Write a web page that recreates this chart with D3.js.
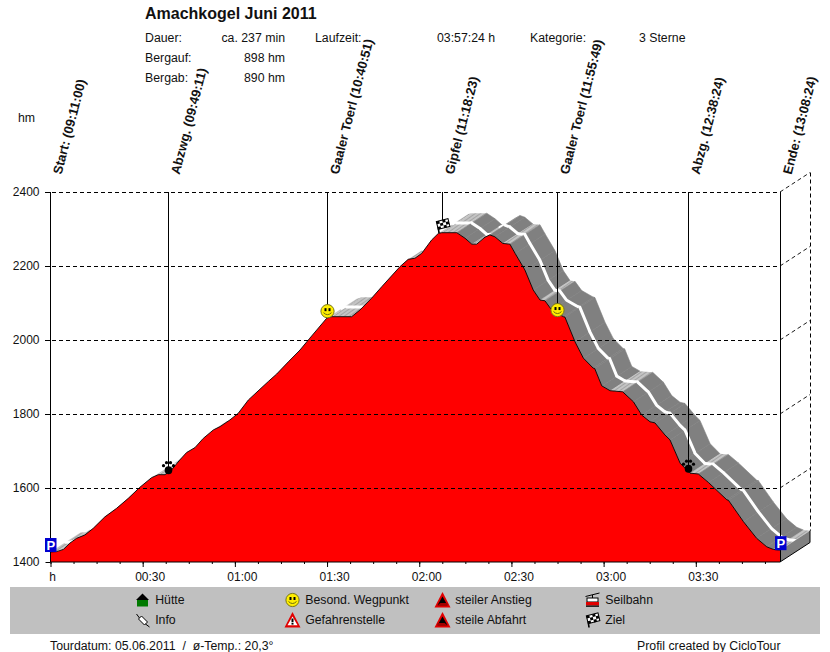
<!DOCTYPE html>
<html>
<head>
<meta charset="utf-8">
<script src="https://cdn.jsdelivr.net/npm/d3@7"></script>
<style>
  body { margin: 0; background: #fff; }
  text { font-family: "Liberation Sans", Arial, sans-serif; font-size: 12.3px; fill: #111; }
  .domain { stroke: #000; }
</style>
</head>
<body>
<div id="chart"></div>
<script>
// profile: minutes since start / elevation in hm
const profileMin = [0, 2, 4.2, 6.3, 8.5, 11.2, 13.9, 17.7, 21.5, 25.3, 29.1, 32.9, 35.1, 37.3, 39.4, 42.1, 44.3, 47, 49.7, 53, 55.2,
    58.4, 61.1, 64.4, 70.9, 73.6, 77.4, 81.2, 84.4, 89.9, 91.5, 98, 100.7, 104.5, 107.8, 113.7, 116.4, 118.6, 120.8, 124, 126.2, 127.3,
    132.2, 134.9, 137.1, 138.7, 141.4, 143, 144.6, 147.2, 149.5, 151.2, 154.4, 157.1, 159.3, 160.9, 163.1, 166.9, 167.4, 170.7, 173.4, 176.6, 177.1,
    179.4, 182.1, 186.2, 189.7, 192.4, 195.1, 196.7, 200, 201.6, 204.9, 208.1, 210.8, 214.1, 220.1, 220.6, 225.5, 229.8, 233.1, 235.2, 237.4];
const profileHm = [1427, 1428, 1434, 1451, 1464, 1473, 1491, 1522, 1545, 1572, 1602, 1628, 1636, 1636, 1649, 1676, 1696, 1709, 1734, 1757, 1766,
    1784, 1802, 1838, 1888, 1908, 1941, 1973, 2005, 2059, 2063, 2063, 2081, 2113, 2144, 2198, 2218, 2221, 2234, 2270, 2288, 2290,
    2290, 2275, 2259, 2259, 2278, 2284, 2279, 2261, 2259, 2234, 2189, 2135, 2108, 2106, 2081, 2063, 2062, 1995, 1951, 1924, 1923,
    1876, 1863, 1860, 1833, 1797, 1779, 1776, 1743, 1730, 1667, 1640, 1638, 1615, 1568, 1567, 1509, 1464, 1441, 1434, 1432];

// waypoints
const eventNames = ["Start", "Abzwg.", "Gaaler Toerl", "Gipfel", "Gaaler Toerl", "Abzg.", "Ende"];
const eventClock = ["09:11:00", "09:49:11", "10:40:51", "11:18:23", "11:55:49", "12:38:24", "13:08:24"];
const eventMin = [0, 38.18, 89.85, 127.38, 164.82, 207.4, 237.4];
const eventHm = [1427, 1636, 2059, 2290, 2062, 1640, 1432];
const eventIcons = ["park", "paw", "smile", "flag", "smile", "paw", "park"];
const eventSep = [": ", " ", " ", " ", " ", " ", ": "];

const yTicks = [1400, 1600, 1800, 2000, 2200, 2400];
const xMajor = [0, 30, 60, 90, 120, 150, 180, 210];
const xLabels = ["h", "00:30", "01:00", "01:30", "02:00", "02:30", "03:00", "03:30"];
const xMinor = d3.range(0, 237.4, 7.5);

const legendNames = ["Hütte", "Info", "Besond. Wegpunkt", "Gefahrenstelle", "steiler Anstieg", "steile Abfahrt", "Seilbahn", "Ziel"];
const legendIcons = ["hut", "pin", "smile", "danger", "up", "down", "cable", "flag"];

const width = 830, height = 652;
const margin = { left: 50.5, right: 780, top: 192, bottom: 562 };
const depth = { x: 30, y: -19.5 };

const svg = d3.select("#chart").append("svg")
    .attr("width", width)
    .attr("height", height)
    .style("display", "block");

const x = d3.scaleLinear().domain([0, 237.4]).range([margin.left, margin.right]);
const y = d3.scaleLinear().domain([1400, 2400]).range([margin.bottom, margin.top]);

const profile = profileMin.map((m, i) => ({ m: m, hm: profileHm[i] }));

// hatch for the flat parts of the surface
const hatch = svg.append("defs").append("pattern")
    .attr("id", "hatch")
    .attr("width", 3).attr("height", 3)
    .attr("patternUnits", "userSpaceOnUse")
    .attr("patternTransform", "rotate(-35)");
hatch.append("rect").attr("width", 3).attr("height", 3).attr("fill", "#c4c4c4");
hatch.append("rect").attr("width", 3).attr("height", 1).attr("fill", "#a4a4a4");

// header
svg.append("text").attr("x", 145).attr("y", 19)
    .style("font-size", "16px").style("font-weight", "bold").text("Amachkogel Juni 2011");
const header = [
    ["Dauer:", 145, 42, "start"], ["ca. 237 min", 285, 42, "end"], ["Laufzeit:", 315, 42, "start"], ["03:57:24 h", 437, 42, "start"],
    ["Kategorie:", 530, 42, "start"], ["3 Sterne", 639, 42, "start"],
    ["Bergauf:", 145, 62, "start"], ["898 hm", 285, 62, "end"],
    ["Bergab:", 145, 82, "start"], ["890 hm", 285, 82, "end"]
];
svg.selectAll(".head").data(header).enter().append("text")
    .attr("class", "head")
    .attr("x", d => d[1]).attr("y", d => d[2])
    .attr("text-anchor", d => d[3])
    .text(d => d[0]);
svg.append("text").attr("x", 18).attr("y", 122).text("hm");

// surface of the ribbon, painted segment by segment from left to right
const surfaceFill = d3.scaleThreshold().domain([-1.5, 5.4]).range(["#808080", "url(#hatch)", "none"]);
const segments = d3.pairs(profile).map(p => ({ a: p[0], b: p[1], rate: (p[1].hm - p[0].hm) / (p[1].m - p[0].m) }));
const surface = svg.append("g");
segments.filter(s => surfaceFill(s.rate) !== "none").forEach(s => {
    const ax = x(s.a.m), ay = y(s.a.hm), bx = x(s.b.m), by = y(s.b.hm);
    surface.append("path")
        .attr("d", `M${ax},${ay}L${bx},${by}L${bx + depth.x},${by + depth.y}L${ax + depth.x},${ay + depth.y}Z`)
        .attr("fill", surfaceFill(s.rate))
        .attr("stroke", s.rate < -1.5 ? "#808080" : "none")
        .attr("stroke-width", 0.6);
    surface.append("line")
        .attr("x1", ax + depth.x / 2).attr("y1", ay + depth.y / 2)
        .attr("x2", bx + depth.x / 2).attr("y2", by + depth.y / 2)
        .attr("stroke", "#fff").attr("stroke-width", 3).attr("stroke-linecap", "round");
});

// end cap of the ribbon
const last = profile[profile.length - 1];
svg.append("path")
    .attr("d", `M${x(last.m)},${y(1400)}L${x(last.m) + depth.x},${y(1400) + depth.y}L${x(last.m) + depth.x},${y(last.hm) + depth.y}L${x(last.m)},${y(last.hm)}Z`)
    .attr("fill", "#808080");
svg.append("path")
    .attr("d", `M${x(last.m)},${y(1400)}L${x(last.m) + depth.x},${y(1400) + depth.y}L${x(last.m) + depth.x},${y(last.hm) + depth.y}`)
    .attr("fill", "none").attr("stroke", "#000");

// red front
svg.append("path").datum(profile)
    .attr("fill", "#ff0000")
    .attr("d", d3.area().x(d => x(d.m)).y0(y(1400)).y1(d => y(d.hm)));
svg.append("path").datum(profile)
    .attr("fill", "none").attr("stroke", "#000").attr("stroke-width", 0.9)
    .attr("d", d3.line().x(d => x(d.m)).y(d => y(d.hm)));

// dashed grid with the 3d side wall
const grid = svg.append("g").attr("stroke", "#000").attr("stroke-dasharray", "4,3");
grid.selectAll(".h").data(yTicks.slice(1)).enter().append("line")
    .attr("x1", 45).attr("x2", margin.right)
    .attr("y1", d => Math.round(y(d)) + 0.5).attr("y2", d => Math.round(y(d)) + 0.5);
grid.selectAll(".d").data(yTicks.slice(1)).enter().append("line")
    .attr("x1", margin.right).attr("y1", d => y(d))
    .attr("x2", margin.right + depth.x).attr("y2", d => y(d) + depth.y)
    .attr("stroke-width", 0.9);
grid.append("line")
    .attr("x1", margin.right + depth.x + 0.5).attr("x2", margin.right + depth.x + 0.5)
    .attr("y1", y(2400) + depth.y).attr("y2", y(last.hm) + depth.y);

// axes
const yAxis = svg.append("g").attr("transform", `translate(${margin.left},0)`)
    .call(d3.axisLeft(y).tickValues(yTicks).tickSize(5).tickPadding(6).tickFormat(d3.format("d")));
yAxis.selectAll("path").attr("d", `M0,${margin.top}V${margin.bottom}`);
yAxis.selectAll("text").style("font-size", "12px").style("font-family", null);

svg.append("g").attr("transform", `translate(0,${margin.bottom})`)
    .call(d3.axisBottom(x).tickValues(xMinor).tickSize(2).tickFormat(""))
    .call(g => g.select(".domain").remove());
const xAxis = svg.append("g").attr("transform", `translate(0,${margin.bottom})`)
    .call(d3.axisBottom(x).tickValues(xMajor).tickSize(5).tickSizeOuter(0).tickPadding(5).tickFormat((d, i) => xLabels[i]));
xAxis.selectAll("text")
    .style("font-size", "12px").style("font-family", null)
    .attr("dx", (d, i) => i === 0 ? 1.5 : 7);
xAxis.select(".domain").attr("d", `M${margin.left},0H${margin.right}`);

// waypoint lines and labels
const events = eventNames.map((n, i) => ({ name: n, clock: eventClock[i], m: eventMin[i], hm: eventHm[i], icon: eventIcons[i], sep: eventSep[i] }));
const stemX = (d, i) => i === 0 ? margin.left : Math.ceil(x(d.m)) + 0.5;
svg.selectAll(".stem").data(events).enter().append("line")
    .attr("x1", stemX).attr("x2", stemX)
    .attr("y1", y(2400))
    .attr("y2", (d, i) => (i === 0 || i === events.length - 1) ? y(1400) : y(d.hm) - 7)
    .attr("stroke", "#000");
svg.selectAll(".label").data(events).enter().append("text")
    .attr("transform", (d, i) => `translate(${stemX(d, i) + 11},175) rotate(-75.5)`)
    .style("font-weight", "bold")
    .style("font-size", "13px")
    .text(d => `${d.name}${d.sep}(${d.clock})`);

// small pictograms, drawn around 0,0
function drawIcon(g, type) {
    if (type === "park") {
        g.append("rect").attr("x", -5.5).attr("y", -7).attr("width", 11.5).attr("height", 14).attr("fill", "#0000d0");
        g.append("text").attr("x", 0.3).attr("y", 5).attr("text-anchor", "middle")
            .style("font-weight", "bold").style("font-size", "13px").style("fill", "#fff").text("P");
    } else if (type === "paw") {
        g.append("ellipse").attr("cx", 0).attr("cy", 2.5).attr("rx", 3.8).attr("ry", 4).attr("fill", "#000");
        [[-5, -2], [-2, -5], [2, -5], [5, -2]].forEach(t => {
            g.append("circle").attr("cx", t[0]).attr("cy", t[1]).attr("r", 1.6).attr("fill", "#000");
        });
    } else if (type === "smile") {
        g.append("circle").attr("r", 6.6).attr("fill", "#ffee00").attr("stroke", "#77771a").attr("stroke-width", 1);
        g.append("rect").attr("x", -3).attr("y", -3).attr("width", 2).attr("height", 3).attr("fill", "#000");
        g.append("rect").attr("x", 1).attr("y", -3).attr("width", 2).attr("height", 3).attr("fill", "#000");
        g.append("path").attr("d", "M-4,1.5Q0,5.5 4,1.5").attr("fill", "none").attr("stroke", "#6a6a10");
    } else if (type === "flag") {
        g.append("path").attr("d", "M-3.5,7.5L-5,-4").attr("stroke", "#000").attr("stroke-width", 1.6);
        const cloth = g.append("g").attr("transform", "rotate(-14)");
        cloth.append("rect").attr("x", -5).attr("y", -5.5).attr("width", 12).attr("height", 8)
            .attr("fill", "#fff").attr("stroke", "#000");
        [[-5, -5.5], [1, -5.5], [-2, -2.8], [4, -2.8], [-5, 0], [1, 0]].forEach(c => {
            cloth.append("rect").attr("x", c[0]).attr("y", c[1]).attr("width", 3).attr("height", 2.7).attr("fill", "#000");
        });
    } else if (type === "hut") {
        g.append("rect").attr("x", -5.5).attr("y", -0.5).attr("width", 11).attr("height", 7).attr("fill", "#007a00");
        g.append("path").attr("d", "M-6.5,0L0,-6.5L6.5,0Z").attr("fill", "#000");
    } else if (type === "pin") {
        g.append("path").attr("d", "M-6,-6L-3,-2").attr("stroke", "#000");
        g.append("path").attr("d", "M-4,-1L-1,-4L5,2L2,5Z").attr("fill", "#fff").attr("stroke", "#000");
        g.append("path").attr("d", "M3,4L7,7").attr("stroke", "#000");
    } else if (type === "danger" || type === "up" || type === "down") {
        g.append("path").attr("d", "M0,-8L8,7.5H-8Z").attr("fill", "#e00000");
        if (type === "danger") {
            g.append("path").attr("d", "M0,-3.5L5,5.2H-5Z").attr("fill", "#fff");
            g.append("rect").attr("x", -1).attr("y", -1.5).attr("width", 2).attr("height", 3.8).attr("fill", "#000");
            g.append("rect").attr("x", -1).attr("y", 3).attr("width", 2).attr("height", 1.6).attr("fill", "#000");
        } else {
            g.append("path").attr("d", "M0,-3.5L5,5.2H-5Z").attr("fill", "#000");
            g.append("path").attr("d", type === "up" ? "M-5,5.2L5,5.2L5,3L-2,3Z" : "M-5,5.2L5,5.2L2,3L-5,3Z").attr("fill", "#a00000");
        }
    } else if (type === "cable") {
        g.append("path").attr("d", "M-7,-3.5L7,-7").attr("stroke", "#000");
        g.append("path").attr("d", "M0,-5V-2").attr("stroke", "#000");
        g.append("rect").attr("x", -5.5).attr("y", -2).attr("width", 11).attr("height", 4).attr("fill", "#fff").attr("stroke", "#000");
        g.append("rect").attr("x", -6.5).attr("y", 2).attr("width", 13).attr("height", 3.5).attr("fill", "#e00000");
        g.append("rect").attr("x", -6.5).attr("y", 5.5).attr("width", 13).attr("height", 1.3).attr("fill", "#000");
    }
}

events.forEach((d, i) => {
    drawIcon(svg.append("g").attr("transform", `translate(${stemX(d, i)},${y(d.hm) - 7})`), d.icon);
});

// legend panel
svg.append("rect").attr("x", 10).attr("y", 587).attr("width", 810).attr("height", 47).attr("fill", "#c0c0c0");
const legendColumn = d3.scaleLinear().domain([0, 3]).range([142.5, 592.5]);
const legendRow = d3.scaleLinear().domain([0, 1]).range([600, 620]);
legendNames.forEach((name, i) => {
    const cx = legendColumn(Math.floor(i / 2)), cy = legendRow(i % 2);
    drawIcon(svg.append("g").attr("transform", `translate(${cx},${cy})`), legendIcons[i]);
    svg.append("text").attr("x", cx + 12.7).attr("y", cy + 4).text(name);
});

// footer
svg.append("text").attr("x", 50).attr("y", 650).text("Tourdatum: 05.06.2011  /  ø-Temp.: 20,3°").attr("xml:space", "preserve");
svg.append("text").attr("x", 637).attr("y", 650).text("Profil created by CicloTour");
</script>
</body>
</html>
